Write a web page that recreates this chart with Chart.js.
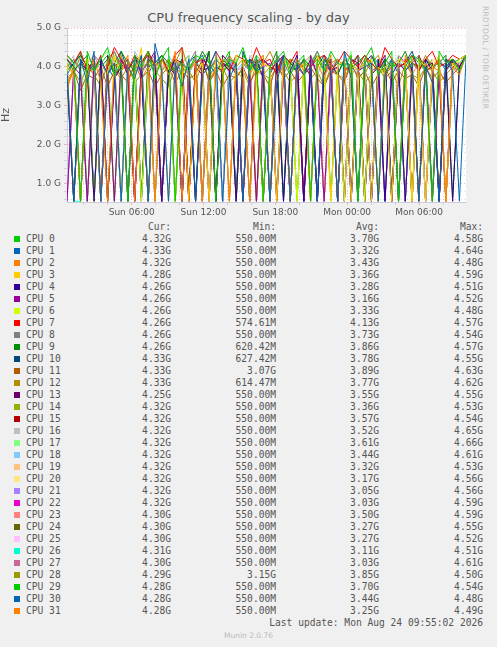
<!DOCTYPE html>
<html><head><meta charset="utf-8">
<script src="https://cdn.jsdelivr.net/npm/chart.js@4"></script>
<style>
body{margin:0;background:#f0f0f0;width:497px;height:647px;position:relative;overflow:hidden;font-family:"DejaVu Sans",sans-serif;}
#title{position:absolute;top:10px;left:0;width:497px;text-align:center;font-size:13px;color:#555;}
#side{position:absolute;left:481px;top:6px;writing-mode:vertical-rl;font-size:7.5px;color:#bbb;letter-spacing:.3px;}
#wrap{position:absolute;left:0;top:0;width:497px;height:215px;}
#legend{position:absolute;left:0;top:221px;width:497px;height:420px;font-family:"DejaVu Sans Mono",monospace;font-size:9.6px;color:#555;}
.sq{position:absolute;left:14px;width:6px;height:6px;}
.c{position:absolute;text-align:right;white-space:nowrap;line-height:12px;}
#foot{position:absolute;top:631px;width:497px;text-align:center;font-size:7.5px;color:#bbb;}
</style></head><body>
<div id="title">CPU frequency scaling - by day</div>
<div id="side">RRDTOOL / TOBI OETIKER</div>
<div id="wrap"><canvas id="c" width="497" height="215"></canvas></div>
<div id="legend"></div>
<div id="foot">Munin 2.0.76</div>
<script>
const colors = ["#00CC00","#0066B3","#FF8000","#FFCC00","#330099","#990099","#CCFF00","#FF0000","#808080","#008F00","#00487D","#B35A00","#B38F00","#6B006B","#8FB300","#B30000","#BEBEBE","#80FF80","#80C9FF","#FFC080","#FFE680","#AA80FF","#EE00CC","#FF8080","#666600","#FFBFFF","#00FFCC","#CC6699","#999900","#00CC00","#0066B3","#FF8000"];
const names = Array.from({length:32},(_,i)=>"CPU "+i);
const cur = ["4.32G","4.33G","4.32G","4.28G","4.26G","4.26G","4.26G","4.26G","4.26G","4.26G","4.33G","4.33G","4.33G","4.25G","4.32G","4.32G","4.32G","4.32G","4.32G","4.32G","4.32G","4.32G","4.32G","4.30G","4.30G","4.30G","4.31G","4.30G","4.29G","4.28G","4.28G","4.28G"];
const mins = ["550.00M","550.00M","550.00M","550.00M","550.00M","550.00M","550.00M","574.61M","550.00M","620.42M","627.42M","3.07G","614.47M","550.00M","550.00M","550.00M","550.00M","550.00M","550.00M","550.00M","550.00M","550.00M","550.00M","550.00M","550.00M","550.00M","550.00M","550.00M","3.15G","550.00M","550.00M","550.00M"];
const avgs = ["3.70G","3.32G","3.43G","3.36G","3.28G","3.16G","3.33G","4.13G","3.73G","3.86G","3.78G","3.89G","3.77G","3.55G","3.36G","3.57G","3.52G","3.61G","3.44G","3.32G","3.17G","3.05G","3.03G","3.50G","3.27G","3.27G","3.11G","3.03G","3.85G","3.70G","3.44G","3.25G"];
const maxs = ["4.58G","4.64G","4.48G","4.59G","4.51G","4.52G","4.48G","4.57G","4.54G","4.57G","4.55G","4.63G","4.62G","4.55G","4.53G","4.54G","4.65G","4.66G","4.61G","4.53G","4.56G","4.56G","4.59G","4.59G","4.55G","4.52G","4.51G","4.61G","4.50G","4.54G","4.48G","4.49G"];

// hours since Sun 00:00, one sample every ~34 minutes
const tStart = 0.6, tStep = 0.565;
const freq = [
[4.3,4.1,.55,4.4,3.9,4.2,4.5,3.8,4.1,.55,4.3,4.0,4.4,3.7,4.2,4.5,.55,4.1,3.9,4.3,4.2,4.4,.55,3.8,4.2,4.1,4.5,3.9,4.3,.55,4.0,4.2,4.4,3.8,4.1,4.3,.55,4.2,3.9,4.4,4.1,4.0,4.3,.55,4.2,4.5,3.8,4.1,4.4,.55,4.0,4.3,4.2,3.9,.55,4.4,4.1,4.2,3.9,4.3],
[3.9,.55,4.2,3.6,4.4,.55,3.8,4.1,.55,4.0,3.7,4.3,.55,4.6,3.9,.55,4.1,3.5,4.2,.55,3.8,4.0,4.4,.55,3.7,4.1,.55,4.2,3.9,4.0,.55,3.6,4.3,.55,4.1,3.8,4.0,.55,4.2,3.9,.55,4.4,3.7,.55,4.0,4.1,.55,3.8,4.2,.55,3.9,4.1,.55,4.0,3.6,.55,4.2,3.9,.55,4.3],
[3.4,4.0,.55,3.8,4.2,3.6,.55,4.1,3.9,4.3,.55,3.7,4.0,.55,4.2,3.8,4.4,.55,3.9,4.1,.55,3.6,4.0,4.2,.55,3.9,3.7,.55,4.1,4.3,.55,3.8,4.0,.55,4.2,3.9,.55,4.1,3.7,4.3,.55,4.0,3.8,.55,4.2,4.1,.55,3.9,4.0,.55,4.3,3.8,.55,4.1,3.9,4.2,.55,4.0,3.8,4.3],
[4.0,3.8,.55,4.2,4.1,.55,3.9,4.3,.55,4.0,3.7,4.5,.55,4.1,3.9,.55,4.2,4.0,.55,3.8,4.1,.55,4.3,3.9,.55,4.0,4.2,.55,3.7,4.1,4.0,.55,4.2,.55,3.9,4.1,.55,4.3,3.8,.55,4.0,4.2,.55,3.9,4.1,.55,4.0,3.8,.55,4.2,4.1,.55,3.9,.55,4.0,4.3,.55,4.1,3.9,4.3],
[3.8,.55,4.1,3.9,.55,4.2,.55,3.7,4.0,.55,4.3,3.8,.55,4.1,.55,3.9,4.2,.55,4.0,.55,3.8,4.4,.55,4.1,3.9,.55,4.0,.55,4.2,3.7,.55,4.1,.55,3.9,4.3,.55,4.0,.55,3.8,4.2,.55,4.1,.55,3.9,4.0,.55,4.2,.55,3.8,4.1,.55,4.0,.55,4.2,3.9,.55,4.1,.55,4.0,4.3],
[.55,4.0,3.8,.55,4.1,.55,3.9,.55,4.2,3.8,.55,4.0,.55,4.3,.55,3.9,4.1,.55,3.7,.55,4.2,.55,4.0,3.9,.55,4.1,.55,3.8,.55,4.2,4.0,.55,3.9,.55,4.1,.55,4.3,3.8,.55,4.0,.55,4.2,.55,3.9,4.1,.55,3.8,.55,4.0,.55,4.2,3.9,.55,4.1,.55,3.8,.55,4.2,4.0,4.3],
[4.1,.55,3.9,4.2,.55,4.0,.55,4.3,3.8,.55,4.1,.55,3.9,4.2,.55,4.0,.55,3.8,4.1,.55,4.2,.55,3.9,4.0,.55,4.3,.55,4.1,3.8,.55,4.0,.55,4.2,3.9,.55,4.1,.55,4.0,4.2,.55,3.8,.55,4.1,3.9,.55,4.2,.55,4.0,4.1,.55,3.9,.55,4.2,4.0,.55,4.1,.55,3.9,4.2,4.3],
[4.3,4.1,4.4,3.9,4.2,.6,4.0,4.5,4.2,3.9,4.3,4.1,4.4,4.0,4.2,3.9,4.3,4.5,.6,4.1,4.2,4.0,4.4,4.1,3.9,4.3,4.2,4.0,4.5,4.1,4.2,3.8,4.3,4.1,4.4,.6,4.0,4.2,4.3,3.9,4.1,4.4,4.2,4.0,4.3,4.1,3.9,4.5,4.2,4.0,4.1,4.3,3.9,4.2,4.4,4.0,4.1,4.3,4.2,4.3],
[4.0,4.2,3.9,.55,4.3,4.1,3.8,4.4,4.0,.55,4.2,3.9,4.1,4.3,.55,4.0,4.2,3.8,4.1,4.4,.55,3.9,4.2,4.0,4.3,.55,4.1,3.9,4.2,4.0,.55,4.3,4.1,3.8,4.2,.55,4.0,4.4,3.9,4.1,.55,4.2,4.0,3.8,.55,4.3,4.1,4.0,4.2,.55,3.9,4.1,4.3,.55,4.0,4.2,3.9,4.1,4.0,4.3],
[4.2,3.9,4.1,4.3,.65,4.0,4.2,3.8,4.4,4.1,3.9,.65,4.2,4.0,4.3,4.1,3.9,4.2,.65,4.0,4.4,4.1,3.8,4.2,4.0,.65,4.3,4.1,3.9,4.2,4.0,4.4,.65,4.1,3.9,4.2,4.0,4.3,4.1,.65,3.8,4.2,4.0,4.1,4.3,3.9,.65,4.2,4.0,4.1,4.4,3.9,.65,4.2,4.0,4.1,4.3,.65,4.0,4.3],
[3.9,4.1,4.3,4.0,.65,4.2,3.8,4.1,4.4,3.9,4.2,.65,4.0,4.1,4.3,3.8,4.2,4.0,.65,4.1,4.3,3.9,4.2,4.0,4.1,.65,4.4,3.9,4.1,4.2,4.0,.65,4.3,4.1,3.9,4.2,.65,4.0,4.3,4.1,3.8,4.2,4.0,.65,4.1,4.3,3.9,4.2,.65,4.0,4.1,4.4,3.9,4.2,.65,4.1,4.0,4.2,3.9,4.3],
[3.6,3.9,3.4,3.8,3.7,4.0,3.5,3.9,3.8,3.6,4.1,3.7,3.9,3.5,3.8,4.0,3.6,3.9,3.7,3.8,4.2,3.6,3.9,3.5,3.8,3.7,4.0,3.6,3.9,3.8,3.5,4.1,3.7,3.9,3.6,3.8,4.0,3.7,3.5,3.9,3.8,3.6,4.1,3.7,3.9,3.5,3.8,4.0,3.6,3.9,3.7,3.8,3.5,4.0,3.7,3.9,3.6,3.8,4.0,4.3],
[4.1,3.8,4.3,4.0,3.9,.65,4.2,4.4,3.9,4.1,4.0,4.3,.65,3.8,4.2,4.0,4.1,4.5,3.9,4.2,.65,4.0,4.1,3.8,4.3,4.0,4.2,3.9,.65,4.1,4.4,4.0,3.8,4.2,4.1,.65,4.0,4.3,3.9,4.1,4.2,4.0,.65,3.9,4.2,4.1,4.3,3.8,4.0,.65,4.2,4.1,3.9,4.3,4.0,.65,4.1,4.2,3.9,4.3],
[4.0,.55,4.2,3.9,4.1,.55,4.3,3.8,4.0,4.2,.55,3.9,4.1,4.4,.55,4.0,3.8,4.2,.55,4.1,3.9,4.0,.55,4.3,4.1,3.8,.55,4.2,4.0,.55,3.9,4.1,4.3,.55,4.0,3.8,4.2,.55,4.1,3.9,4.0,.55,4.2,4.1,.55,3.8,4.0,4.3,.55,4.1,3.9,.55,4.2,4.0,4.1,.55,3.9,4.2,4.0,4.3],
[3.8,.55,4.0,4.2,.55,3.9,4.1,.55,4.3,3.8,.55,4.0,4.1,.55,3.9,4.2,.55,4.0,3.8,.55,4.1,4.3,.55,3.9,4.0,.55,4.2,4.1,.55,3.8,4.0,.55,4.2,3.9,.55,4.1,4.0,.55,4.3,3.9,.55,4.1,4.0,.55,3.8,4.2,.55,4.0,4.1,.55,3.9,4.2,.55,4.0,4.1,.55,3.9,4.2,4.0,4.3],
[4.2,4.0,.55,4.1,3.9,4.3,.55,4.0,4.2,3.8,.55,4.1,4.3,4.0,.55,3.9,4.2,4.1,.55,4.0,3.8,4.4,.55,4.1,4.0,3.9,.55,4.2,4.1,.55,4.0,3.9,4.3,.55,4.1,4.0,3.8,.55,4.2,4.1,.55,3.9,4.0,4.3,.55,4.1,3.9,4.2,.55,4.0,4.1,.55,4.3,3.9,4.0,.55,4.2,4.1,3.9,4.3],
[4.0,4.3,.55,3.9,4.1,.55,4.2,4.0,3.8,.55,4.4,4.1,.55,3.9,4.2,4.0,.55,4.1,4.3,.55,3.8,4.0,4.2,.55,4.1,3.9,.55,4.3,4.0,4.1,.55,3.9,4.2,.55,4.0,4.1,3.8,.55,4.2,4.0,.55,4.3,3.9,4.1,.55,4.0,4.2,.55,3.9,4.1,4.0,.55,4.2,3.8,.55,4.1,4.0,4.2,3.9,4.3],
[4.1,3.9,4.3,.55,4.0,4.2,4.4,.55,3.9,4.1,4.0,4.3,.55,4.2,3.9,4.1,.55,4.4,4.0,4.2,3.8,.55,4.1,4.3,4.0,.55,4.2,3.9,4.1,4.3,.55,4.0,4.2,4.1,.55,3.9,4.3,4.0,4.2,.55,4.1,3.9,4.4,.55,4.0,4.2,4.1,.55,3.9,4.3,4.0,.55,4.2,4.1,3.9,.55,4.0,4.2,4.1,4.3],
[3.9,4.2,.55,4.0,.55,4.1,3.8,4.3,.55,4.0,4.2,.55,3.9,4.1,.55,4.3,4.0,.55,3.8,4.2,4.1,.55,4.0,.55,4.2,3.9,4.1,.55,4.3,4.0,.55,3.9,4.1,.55,4.2,4.0,.55,3.8,4.2,4.1,.55,4.0,.55,4.3,3.9,.55,4.1,4.0,.55,4.2,3.9,.55,4.1,4.0,.55,4.2,3.9,4.1,4.0,4.3],
[4.0,.55,3.9,4.2,.55,4.1,.55,4.0,3.8,.55,4.3,4.0,.55,4.1,.55,3.9,4.2,.55,4.0,4.1,.55,3.8,.55,4.2,4.0,.55,4.1,3.9,.55,4.3,.55,4.0,4.1,.55,3.9,4.2,.55,4.0,.55,4.1,3.8,.55,4.2,4.0,.55,4.1,.55,3.9,4.2,.55,4.0,4.1,.55,3.9,.55,4.2,4.0,.55,4.1,4.3],
[3.8,.55,4.1,.55,4.0,3.9,.55,4.2,.55,3.8,4.1,.55,4.0,.55,4.3,3.9,.55,4.0,.55,4.1,3.8,.55,4.2,.55,3.9,4.0,.55,4.1,.55,4.2,3.9,.55,4.0,.55,4.1,3.8,.55,4.2,.55,4.0,3.9,.55,4.1,.55,4.0,4.2,.55,3.9,.55,4.1,4.0,.55,3.8,.55,4.2,4.0,.55,4.1,4.0,4.3],
[.55,3.9,4.1,.55,4.0,.55,3.8,4.2,.55,4.0,.55,4.1,3.9,.55,4.0,.55,4.2,3.8,.55,4.1,.55,4.0,3.9,.55,4.2,.55,3.9,4.1,.55,4.0,.55,4.3,3.8,.55,4.0,.55,4.1,3.9,.55,4.2,.55,4.0,3.8,.55,4.1,.55,3.9,4.2,.55,4.0,.55,4.1,3.9,.55,4.0,.55,4.2,3.9,4.1,4.3],
[4.1,.55,3.9,.55,4.0,4.2,.55,3.8,.55,4.1,4.0,.55,4.3,.55,3.9,4.1,.55,4.0,.55,4.2,3.8,.55,4.0,.55,4.1,3.9,.55,4.2,.55,4.0,4.1,.55,3.9,.55,4.2,4.0,.55,4.1,.55,3.8,4.0,.55,4.2,.55,4.1,3.9,.55,4.0,.55,4.3,4.1,.55,3.9,.55,4.0,4.2,.55,3.9,4.1,4.3],
[4.2,4.0,.55,4.1,4.3,3.9,.55,4.2,4.0,.55,4.1,3.9,4.4,.55,4.0,4.2,.55,4.1,3.8,4.3,.55,4.0,4.1,.55,4.2,3.9,4.0,.55,4.3,4.1,.55,3.9,4.2,4.0,.55,4.1,4.3,.55,3.9,4.0,4.2,.55,4.1,3.9,.55,4.3,4.0,4.1,.55,4.2,3.9,.55,4.0,4.2,4.1,.55,3.9,4.2,4.0,4.3],
[3.7,.55,4.0,3.9,.55,4.1,.55,3.8,4.0,.55,4.2,3.9,.55,4.0,.55,4.1,3.8,.55,4.0,4.2,.55,3.9,.55,4.1,4.0,.55,3.8,.55,4.2,4.0,.55,3.9,4.1,.55,4.0,.55,4.2,3.8,.55,4.1,.55,4.0,3.9,.55,4.2,.55,4.0,4.1,.55,3.9,.55,4.1,4.0,.55,3.8,.55,4.2,4.0,4.1,4.3],
[.55,4.0,4.2,.55,3.9,.55,4.1,4.0,.55,4.2,.55,3.8,4.1,.55,4.0,.55,4.2,3.9,.55,4.1,.55,4.0,4.2,.55,3.9,.55,4.1,4.0,.55,4.2,.55,3.9,4.0,.55,4.1,.55,4.3,3.9,.55,4.0,.55,4.2,4.1,.55,3.9,.55,4.0,4.2,.55,4.1,.55,3.9,4.0,.55,4.2,.55,4.1,3.9,4.0,4.3],
[4.0,.55,.55,4.1,3.9,.55,4.2,.55,4.0,.55,3.8,4.1,.55,4.0,.55,4.2,.55,3.9,4.0,.55,4.1,.55,4.2,.55,3.9,4.0,.55,4.1,.55,3.8,.55,4.2,4.0,.55,4.1,.55,3.9,.55,4.2,4.0,.55,4.1,.55,3.9,.55,4.0,4.2,.55,4.1,.55,3.9,.55,4.0,4.1,.55,4.2,.55,3.9,4.1,4.3],
[.55,3.9,.55,4.0,4.1,.55,3.8,.55,4.2,.55,4.0,3.9,.55,4.1,.55,4.0,.55,4.2,3.8,.55,4.0,.55,4.1,.55,3.9,4.2,.55,4.0,.55,4.1,.55,3.9,4.0,.55,4.2,.55,4.1,.55,3.8,4.0,.55,4.1,.55,4.2,.55,3.9,4.0,.55,4.1,.55,4.0,.55,3.9,4.2,.55,4.0,.55,4.1,4.0,4.3],
[3.7,3.9,3.6,4.0,3.8,3.5,4.1,3.9,3.7,4.0,3.6,3.8,4.2,3.9,3.7,3.5,4.0,3.8,3.9,3.6,4.1,3.7,3.9,4.0,3.6,3.8,3.9,3.5,4.1,3.8,3.7,4.0,3.9,3.6,3.8,4.2,3.7,3.9,3.5,4.0,3.8,3.7,4.1,3.9,3.6,3.8,4.0,3.7,3.9,3.5,4.1,3.8,3.7,4.0,3.9,3.6,3.8,4.0,4.1,4.3],
[4.2,4.0,4.4,.55,3.9,4.1,4.3,4.0,.55,4.2,3.8,4.1,4.4,4.0,.55,4.2,3.9,4.1,4.3,.55,4.0,4.2,3.9,4.1,4.4,.55,4.0,4.2,3.8,4.1,.55,4.3,4.0,4.2,3.9,.55,4.1,4.4,4.0,4.2,.55,3.9,4.1,4.3,4.0,.55,4.2,3.8,4.1,4.0,.55,4.3,4.1,3.9,4.2,.55,4.0,4.1,4.2,4.3],
[3.8,4.1,.55,3.9,4.2,.55,4.0,3.7,.55,4.1,4.0,.55,3.8,4.2,.55,4.0,3.9,.55,4.1,4.3,.55,3.8,4.0,.55,4.2,3.9,.55,4.0,4.1,.55,3.8,4.2,.55,4.0,3.9,.55,4.1,4.0,.55,3.8,4.2,.55,4.0,4.1,.55,3.9,4.0,.55,4.2,3.8,.55,4.1,4.0,.55,3.9,4.2,.55,4.0,3.9,4.3],
[3.5,3.9,.55,4.1,3.8,.55,4.0,4.2,.55,3.7,4.0,.55,4.1,3.9,.55,4.2,3.8,.55,4.0,4.1,.55,3.9,3.7,.55,4.2,4.0,.55,3.8,4.1,.55,4.0,3.9,.55,4.2,3.8,.55,4.1,4.0,.55,3.9,4.2,.55,3.8,4.0,.55,4.1,3.9,.55,4.0,4.2,.55,3.8,4.1,.55,4.0,3.9,.55,4.1,4.0,4.3]
];

const datasets = freq.map((vals, i) => ({
  label: names[i],
  data: vals.map((v, j) => ({x: tStart + j*tStep, y: v})),
  borderColor: colors[i],
  borderWidth: 1,
  pointRadius: 0,
  tension: 0
}));

const xLabels = {6:"Sun 06:00",12:"Sun 12:00",18:"Sun 18:00",24:"Mon 00:00",30:"Mon 06:00"};
const tickFont = {family:"DejaVu Sans", size:9};

new Chart(document.getElementById("c"), {
  type: "line",
  data: { datasets },
  options: {
    responsive: false,
    animation: false,
    layout: { padding: { left: 0, right: 31, top: 28, bottom: 0 } },
    plugins: { legend: { display: false }, tooltip: { enabled: false } },
    scales: {
      x: {
        type: "linear", min: tStart, max: 33.92,
        afterBuildTicks: s => { const t=[]; for (let h=2; h<=32; h+=2) t.push({value:h}); s.ticks = t; },
        afterFit: s => { s.height = 13; },
        ticks: { color:"#555", font: tickFont, padding: 2, maxRotation: 0, autoSkip: false,
          callback: v => xLabels[v] || "" },
        grid: { color: c => (c.tick && c.tick.value % 6 === 0) ? "rgba(230,120,120,0.7)" : "rgba(170,170,170,0.7)",
          lineWidth: 0.7, tickLength: 3, drawTicks: true },
        border: { color: "#ccd", dash: [1, 2] }
      },
      y: {
        min: 0.53, max: 5.0,
        afterBuildTicks: s => { const t=[]; for (let k=3; k<=25; k++) t.push({value:k/5}); s.ticks = t; },
        afterFit: s => { s.width = 67; },
        ticks: { color:"#555", font: tickFont, padding: 3, autoSkip: false,
          callback: v => (Math.abs(v - Math.round(v)) < 1e-6) ? v.toFixed(1) + " G" : "" },
        grid: { color: c => (c.tick && Math.abs(c.tick.value - Math.round(c.tick.value)) < 1e-6) ? "rgba(230,120,120,0.7)" : "rgba(170,170,170,0.6)",
          lineWidth: 0.7, tickLength: 3 },
        border: { color: "#ccd", dash: [1, 2] },
        title: { display: true, text: "Hz", color: "#555", font: {family:"DejaVu Sans", size:11}, padding: 0 }
      }
    }
  },
  plugins: [{
    id: "bg",
    beforeDraw: ch => {
      const {ctx, chartArea: a} = ch;
      ctx.save(); ctx.fillStyle = "#fff";
      ctx.fillRect(a.left, a.top, a.right - a.left, a.bottom - a.top);
      ctx.restore();
    }
  }]
});

// legend table
const lg = document.getElementById("legend");
function cell(text, right, top, left){
  const d = document.createElement("div");
  d.className = "c"; d.textContent = text;
  if (left !== undefined) { d.style.left = left + "px"; d.style.textAlign = "left"; }
  else d.style.right = (497 - right) + "px";
  d.style.top = top + "px";
  lg.appendChild(d);
}
cell("Cur:", 171, 0); cell("Min:", 276, 0); cell("Avg:", 379, 0); cell("Max:", 483, 0);
names.forEach((n, i) => {
  const top = 12 + i * 12;
  const sq = document.createElement("div");
  sq.className = "sq"; sq.style.top = (top + 3) + "px"; sq.style.background = colors[i];
  lg.appendChild(sq);
  cell(n, 0, top, 26);
  cell(cur[i], 171, top); cell(mins[i], 276, top); cell(avgs[i], 379, top); cell(maxs[i], 483, top);
});
cell("Last update: Mon Aug 24 09:55:02 2026", 483, 12 + 32 * 12);
</script>
</body></html>
